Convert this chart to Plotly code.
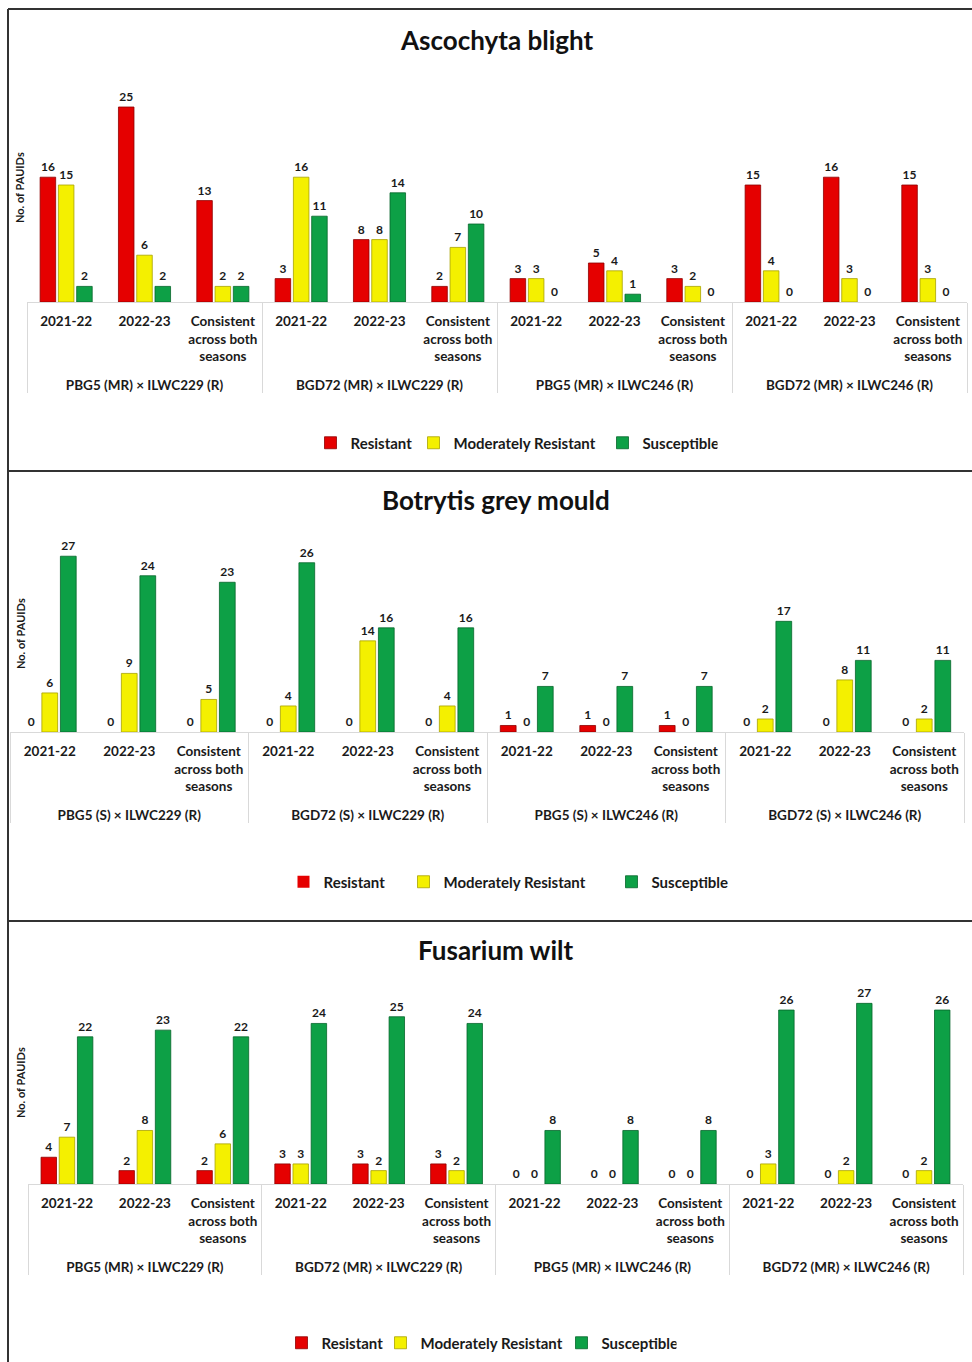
import plotly.graph_objects as go
from plotly.subplots import make_subplots

W, H = 972, 1362

seasons = ["2021-22", "2022-23", "Consistent across both seasons"]
classes = ["Resistant", "Moderately Resistant", "Susceptible"]

# Ascochyta blight
asc_crosses = ["PBG5 (MR) × ILWC229 (R)", "BGD72 (MR) × ILWC229 (R)",
               "PBG5 (MR) × ILWC246 (R)", "BGD72 (MR) × ILWC246 (R)"]
asc_resistant = [16, 25, 13, 3, 8, 2, 3, 5, 3, 15, 16, 15]
asc_moderate = [15, 6, 2, 16, 8, 7, 3, 4, 2, 4, 3, 3]
asc_susceptible = [2, 2, 2, 11, 14, 10, 0, 1, 0, 0, 0, 0]

# Botrytis grey mould
bgm_crosses = ["PBG5 (S) × ILWC229 (R)", "BGD72 (S) × ILWC229 (R)",
               "PBG5 (S) × ILWC246 (R)", "BGD72 (S) × ILWC246 (R)"]
bgm_resistant = [0, 0, 0, 0, 0, 0, 1, 1, 1, 0, 0, 0]
bgm_moderate = [6, 9, 5, 4, 14, 4, 0, 0, 0, 2, 8, 2]
bgm_susceptible = [27, 24, 23, 26, 16, 16, 7, 7, 7, 17, 11, 11]

# Fusarium wilt
fw_crosses = ["PBG5 (MR) × ILWC229 (R)", "BGD72 (MR) × ILWC229 (R)",
              "PBG5 (MR) × ILWC246 (R)", "BGD72 (MR) × ILWC246 (R)"]
fw_resistant = [4, 2, 2, 3, 3, 3, 0, 0, 0, 0, 0, 0]
fw_moderate = [7, 8, 6, 3, 2, 2, 0, 0, 0, 3, 2, 2]
fw_susceptible = [22, 23, 22, 24, 25, 24, 8, 8, 8, 26, 27, 26]

colors = {"Resistant": "#E50000", "Moderately Resistant": "#F4F000", "Susceptible": "#0DA046"}
edges = {"Resistant": "#8E0000", "Moderately Resistant": "#A8A200", "Susceptible": "#06662B"}

FONT = "Lato, 'Open Sans', sans-serif"
INK = "#1A1A1A"


def season_label(s):
    """Wrap the long season label onto three lines; a blank trailing line
    leaves room between the season row and the cross row."""
    if s.startswith("Consistent"):
        return "Consistent<br>across both<br>seasons<br>\u00a0"
    return s


panels = [
    dict(title="Ascochyta blight", crosses=asc_crosses,
         series=[asc_resistant, asc_moderate, asc_susceptible],
         x0=27, x1=967, base=302, top=80, scale=7.8, title_y=40, ytitle_y=188,
         legend=dict(cx=514, y=443, widths=[58, 144, 70])),
    dict(title="Botrytis grey mould", crosses=bgm_crosses,
         series=[bgm_resistant, bgm_moderate, bgm_susceptible],
         x0=10, x1=964, base=732, top=540, scale=6.51, title_y=500, ytitle_y=634,
         legend=dict(cx=515, y=882, widths=[75, 163, 90])),
    dict(title="Fusarium wilt", crosses=fw_crosses,
         series=[fw_resistant, fw_moderate, fw_susceptible],
         x0=28, x1=963, base=1184, top=990, scale=6.69, title_y=950, ytitle_y=1083,
         legend=dict(cx=479, y=1343, widths=[54, 136, 70])),
]

fig = make_subplots(rows=3, cols=1)

annotations = []
shapes = []
for i, p in enumerate(panels):
    row = i + 1
    lg = "legend" if i == 0 else f"legend{row}"
    season_ticks = [season_label(s) for s in seasons]
    xcat = [[c for c in p["crosses"] for _ in seasons],
            season_ticks * len(p["crosses"])]
    for k, (name, vals) in enumerate(zip(classes, p["series"])):
        fig.add_trace(go.Bar(
            x=xcat, y=vals, name=name, legend=lg, legendwidth=p["legend"]["widths"][k],
            marker=dict(color=colors[name],
                        line=dict(color=edges[name], width=[0.8 if v else 0 for v in vals])),
            text=vals, texttemplate="%{y}", textposition="outside",
            constraintext="none", cliponaxis=False,
            textfont=dict(family=FONT, size=12, color=INK, weight="bold"),
        ), row=row, col=1)

    xa = "xaxis" if i == 0 else f"xaxis{row}"
    ya = "yaxis" if i == 0 else f"yaxis{row}"
    fig.layout[xa].update(
        type="multicategory", domain=[p["x0"] / W, p["x1"] / W],
        showline=True, linecolor="#D9D9D9", linewidth=1,
        showdividers=True, dividercolor="#D9D9D9", dividerwidth=1,
        showgrid=False, ticks="", ticklabelstandoff=7,
        tickfont=dict(family=FONT, size=13.5, color=INK, weight="bold"),
    )
    yrange = (p["base"] - p["top"]) / p["scale"]
    fig.layout[ya].update(
        domain=[1 - p["base"] / H, 1 - p["top"] / H], range=[0, yrange],
        showticklabels=False, showgrid=False, zeroline=False, showline=False,
    )

    annotations.append(dict(
        text=p["title"], x=496 / W, y=1 - p["title_y"] / H, xref="paper", yref="paper",
        xanchor="center", yanchor="middle", showarrow=False,
        font=dict(family=FONT, size=26, color="#111111", weight="bold")))
    annotations.append(dict(
        text="No. of PAUIDs", x=20 / W, y=1 - p["ytitle_y"] / H, xref="paper", yref="paper",
        xanchor="center", yanchor="middle", textangle=-90, showarrow=False,
        font=dict(family=FONT, size=11, color=INK, weight="bold")))

    fig.layout[lg] = dict(
        orientation="h", x=p["legend"]["cx"] / W, xanchor="center",
        y=1 - p["legend"]["y"] / H, yanchor="middle",
        bgcolor="rgba(0,0,0,0)", traceorder="normal",
        font=dict(family=FONT, size=15, color=INK, weight="bold"),
    )

# frame around the three panels and the separators between them
frame = dict(type="line", xref="paper", yref="paper", line=dict(color="#333333", width=2))
shapes.append({**frame, "x0": 8 / W, "x1": 1, "y0": 1 - 9 / H, "y1": 1 - 9 / H})
shapes.append({**frame, "x0": 8 / W, "x1": 8 / W, "y0": 1 - 9 / H, "y1": 0})
for yy in (471, 921):
    shapes.append({**frame, "x0": 8 / W, "x1": 1, "y0": 1 - yy / H, "y1": 1 - yy / H})

fig.update_layout(
    width=W, height=H, margin=dict(l=0, r=0, t=0, b=0),
    paper_bgcolor="white", plot_bgcolor="white",
    barmode="group", bargap=0.3, bargroupgap=0.15,
    showlegend=True, annotations=annotations, shapes=shapes,
    font=dict(family=FONT, color=INK),
)

fig.write_html("out.html")
